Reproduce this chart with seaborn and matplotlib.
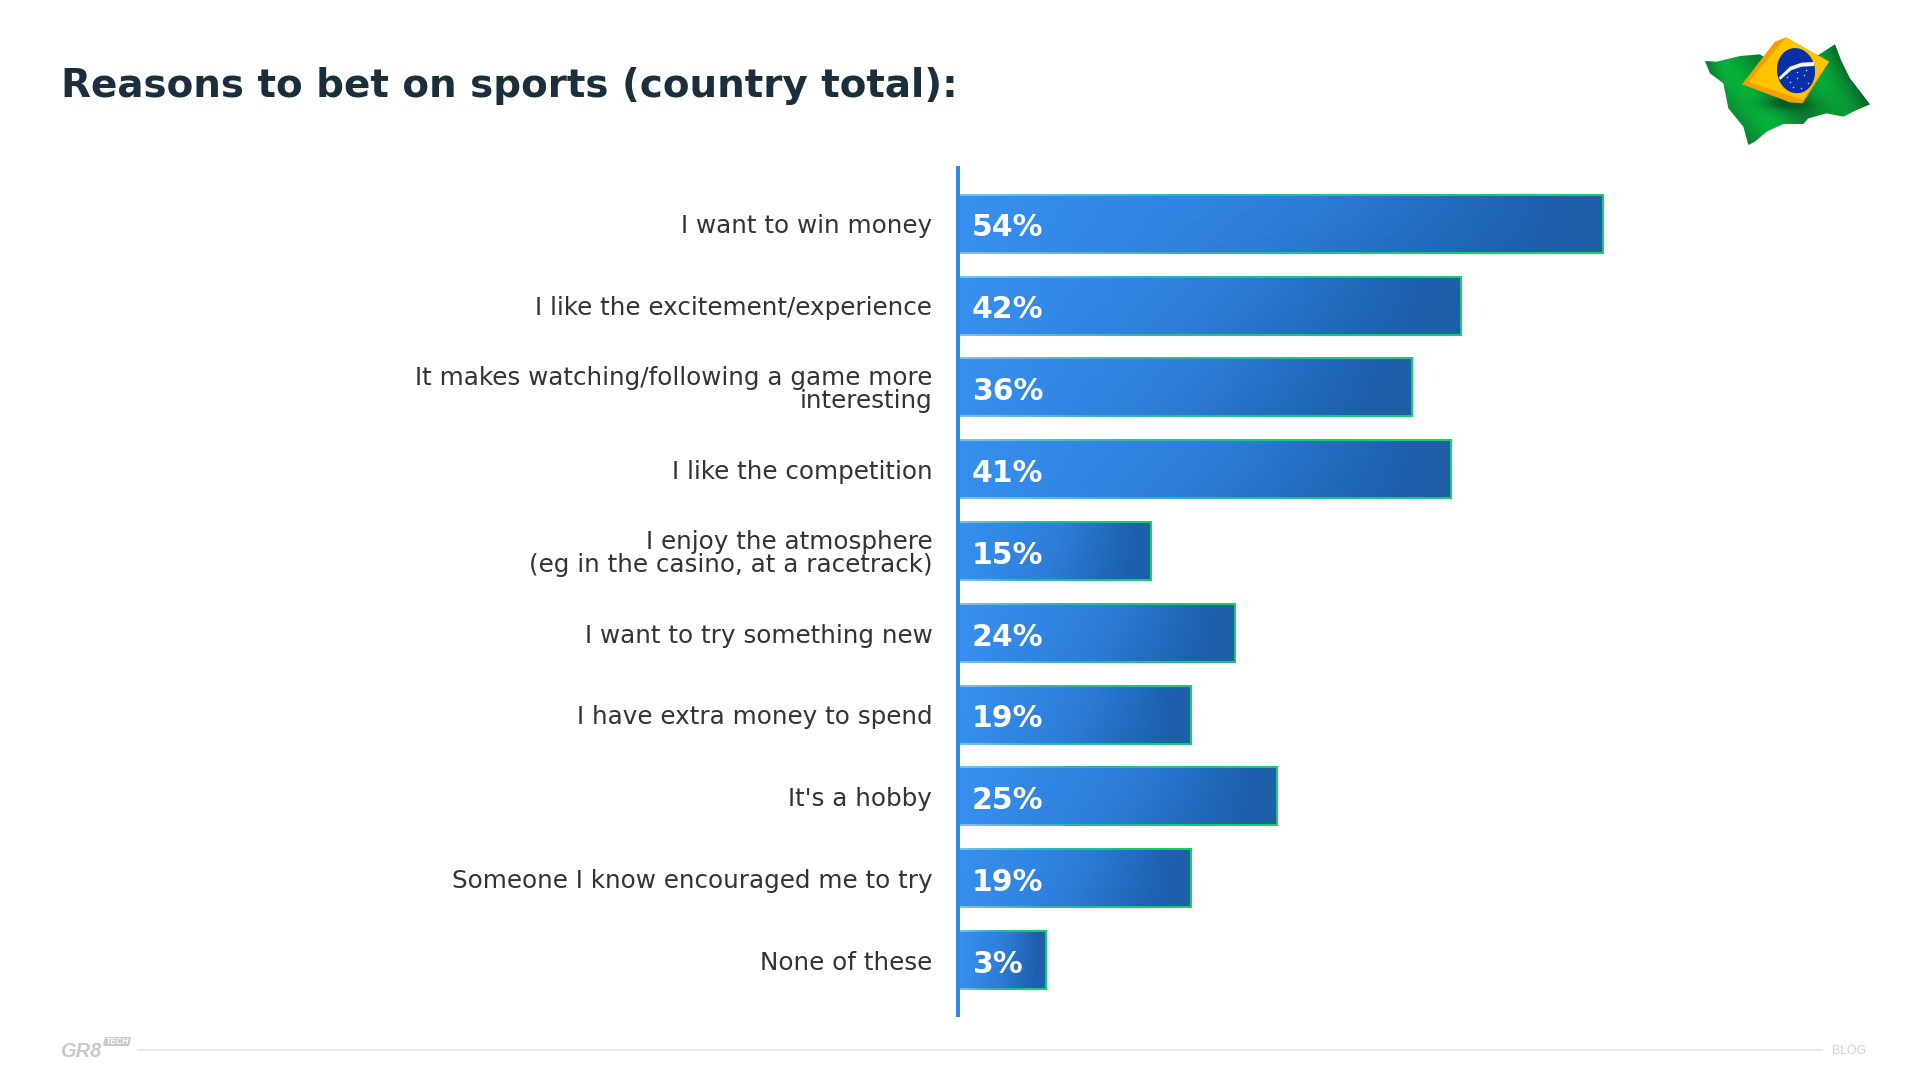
import numpy as np
import pandas as pd
import seaborn as sns
import matplotlib
matplotlib.use("Agg")
import matplotlib.pyplot as plt
from matplotlib.colors import LinearSegmentedColormap
from matplotlib.patches import Polygon, Ellipse

categories = [
    "I want to win money",
    "I like the excitement/experience",
    "It makes watching/following a game more\ninteresting",
    "I like the competition",
    "I enjoy the atmosphere\n(eg in the casino, at a racetrack)",
    "I want to try something new",
    "I have extra money to spend",
    "It's a hobby",
    "Someone I know encouraged me to try",
    "None of these",
]
# Drawn bar lengths (they are not strictly proportional to the printed labels)
bar_lengths = [54.0, 42.1, 37.9, 41.2, 16.0, 23.1, 19.4, 26.6, 19.4, 7.2]
value_labels = ["54%", "42%", "36%", "41%", "15%", "24%", "19%", "25%", "19%", "3%"]
title_text = "Reasons to bet on sports (country total):"

W, H = 1920, 1080
sns.set_theme(style="white")
plt.rcParams["font.family"] = ["DejaVu Sans"]
fig = plt.figure(figsize=(W / 100, H / 100), dpi=100, facecolor="white")

# Overlay in pixel coordinates for page furniture
page = fig.add_axes([0, 0, 1, 1], zorder=0)
page.set_xlim(0, W)
page.set_ylim(H, 0)
page.axis("off")

# Plot axes
X0, X1, Y0, Y1 = 960, 1640, 166, 1017
PITCH, C0 = 81.8, 224
PX_PER_UNIT = 11.9
ax = fig.add_axes([X0 / W, 1 - Y1 / H, (X1 - X0) / W, (Y1 - Y0) / H], zorder=1)
ax.patch.set_alpha(0)

df = pd.DataFrame({"reason": categories, "length": bar_lengths})
sns.barplot(data=df, y="reason", x="length", orient="h", color="#2A78D0",
            width=57.5 / PITCH, ax=ax, linewidth=0, saturation=1, errorbar=None)
xlim = (0, (X1 - X0) / PX_PER_UNIT)
ylim = ((Y1 - C0) / PITCH, (Y0 - C0) / PITCH)

fill_cmap = LinearSegmentedColormap.from_list(
    "fill", [(0, "#378FEE"), (0.5, "#2C7DD8"), (0.9, "#1D60AE"), (1, "#205FA6")])
edge_cmap = LinearSegmentedColormap.from_list(
    "edge", [(0, "#7FC0E8"), (0.35, "#2FB5B5"), (0.75, "#14CC70"), (1, "#14D068")])

for p, label in zip(ax.patches, value_labels):
    x, y, w, h = p.get_x(), p.get_y(), p.get_width(), p.get_height()
    dx, dy = 1.0 / PX_PER_UNIT, 1.0 / PITCH
    tx = np.linspace(0, 1, 256)
    ty = np.linspace(-1, 1, 16)
    grid = np.clip(tx[None, :] + 0.05 * ty[:, None] * (1 - tx[None, :]) * tx[None, :] * 4, 0, 1)
    # outer image -> gradient outline, inner image -> gradient fill
    ax.imshow(tx[None, :], cmap=edge_cmap, vmin=0, vmax=1, aspect="auto", zorder=2,
              extent=(x, x + w + dx, y + h + dy, y - dy), interpolation="bilinear")
    ax.imshow(grid, cmap=fill_cmap, vmin=0, vmax=1, aspect="auto", zorder=3,
              extent=(x, x + w - dx, y + h - dy, y + dy), interpolation="bilinear")
    ax.annotate(label, (0, y + h / 2), xytext=(12, -4), textcoords="offset pixels",
                ha="left", va="center", color="white", fontsize=21.5, fontweight="bold", zorder=5)

ax.set_xlim(*xlim)
ax.set_ylim(*ylim)
ax.set_xlabel("")
ax.set_ylabel("")
ax.set_xticks([])
for s in ["top", "right", "bottom"]:
    ax.spines[s].set_visible(False)
ax.spines["left"].set_color("#3389EA")
ax.spines["left"].set_linewidth(4 * 72 / 100)
ax.spines["left"].set_position(("outward", 2 * 72 / 100))
ax.spines["left"].set_capstyle("butt")
ax.tick_params(axis="y", length=0, pad=18.5)
for t in ax.get_yticklabels():
    t.set_fontsize(17.7)
    t.set_color("#333333")
    t.set_linespacing(0.95)

# Title
page.text(61, 97, title_text, fontsize=28, fontweight="bold", color="#1A2E3B",
          family="DejaVu Sans", ha="left", va="baseline")

# Footer
page.plot([137, 1823], [1050, 1050], color="#E3E3E3", lw=1.1, solid_capstyle="butt")
page.text(1832, 1054, "BLOG", fontsize=8.8, color="#CFCFCF", family="Liberation Sans", va="baseline")
page.text(60, 1057, "GR8", fontsize=14.5, color="#C9C9C9", fontweight="bold", fontstyle="italic",
          family="Liberation Sans", va="baseline")
page.add_patch(Polygon([(105, 1037), (131, 1037), (129, 1046), (103, 1046)], closed=True,
                       fc="#C9C9C9", ec="none"))
page.text(117, 1041.7, "TECH", fontsize=6.2, color="white", fontweight="bold", fontstyle="italic",
          family="Liberation Sans", ha="center", va="center")

# Flag decoration: zoom-coordinates -> page pixels
def fp(pts):
    return [(1680 + a / 3, 20 + b / 3) for a, b in pts]

outline = fp([(75, 123), (110, 125), (180, 108), (240, 103), (262, 118), (300, 150), (415, 105), (465, 73),
              (485, 125), (510, 175), (570, 253), (530, 270), (490, 290), (440, 280), (385, 295),
              (370, 312), (310, 312), (260, 335), (225, 365), (205, 375), (190, 320), (145, 265),
              (130, 190), (90, 160)])
flag_clip = Polygon(outline, closed=True, fc="none", ec="none", transform=page.transData)
page.add_patch(flag_clip)
ny, nx = 120, 180
xx, yy = np.meshgrid(np.linspace(75, 570, nx), np.linspace(73, 375, ny))
wave = 0.5 + 0.5 * np.sin((xx - yy * 0.75) / 42 + 0.8)
sh = np.exp(-(((xx - 310) / 80) ** 2 + ((yy - 250) / 22) ** 2))
dark = np.clip(((xx - 400) / 170), 0, 1) * 0.5 + np.clip((130 - xx) / 60, 0, 1) * 0.5
val = np.clip(0.35 + 0.65 * wave - 0.6 * sh - dark, 0, 1)
green = LinearSegmentedColormap.from_list("g", ["#055E25", "#0A8A33", "#06B038"])
im = page.imshow(val, cmap=green, vmin=0, vmax=1, aspect="auto", zorder=1, interpolation="bilinear",
                 extent=(1680 + 75 / 3, 1680 + 570 / 3, 20 + 375 / 3, 20 + 73 / 3))
im.set_clip_path(flag_clip)
page.add_patch(Polygon(fp([(186, 193), (285, 65), (318, 52), (447, 125), (368, 250), (330, 247)]),
                       closed=True, fc="#F59F00", ec="none", zorder=2))
page.add_patch(Polygon(fp([(206, 186), (318, 52), (447, 125), (368, 240)]),
                       closed=True, fc="#FFC400", ec="none", zorder=3))
page.add_patch(Ellipse((1680 + 348 / 3, 20 + 152 / 3), 114 / 3, 136 / 3, angle=-8,
                       fc="#0B2FA8", ec="none", zorder=4))
band = fp([(297, 172), (330, 140), (365, 128), (402, 126), (402, 138), (365, 140), (335, 150), (300, 180)])
page.add_patch(Polygon(band, closed=True, fc="#F4F8F6", ec="none", zorder=5))
star_x = [330, 350, 372, 385, 340, 362, 320, 378, 352]
star_y = [185, 175, 165, 190, 200, 205, 170, 150, 155]
page.scatter(*zip(*fp(list(zip(star_x, star_y)))), s=1.2, c="#CFE0F5", linewidths=0, zorder=6)
page.set_xlim(0, W)
page.set_ylim(H, 0)

fig.savefig("out.png", dpi=100, facecolor="white")
